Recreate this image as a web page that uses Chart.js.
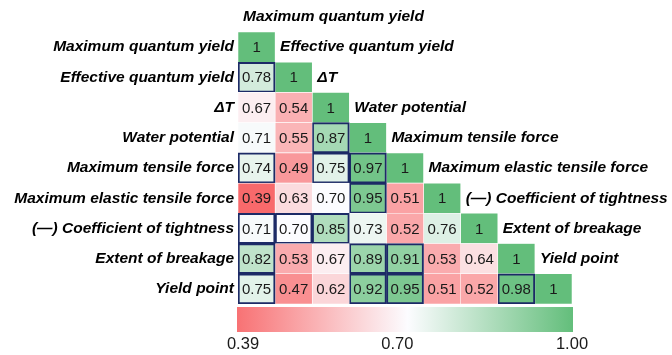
<!DOCTYPE html>
<html>
<head>
<meta charset="utf-8">
<script src="https://cdn.jsdelivr.net/npm/chart.js@4/dist/chart.umd.min.js"></script>
<style>
  html, body { margin: 0; padding: 0; background: #fff; }
  #wrap { width: 672px; height: 355px; position: relative; }
</style>
</head>
<body>
<div id="wrap"><canvas id="myChart" width="672" height="355"></canvas></div>
<script>
// traits, top to bottom (same order for columns, left to right)
var traits = [
  'Maximum quantum yield',
  'Effective quantum yield',
  '\u0394T',
  'Water potential',
  'Maximum tensile force',
  'Maximum elastic tensile force',
  '(\u2014) Coefficient of tightness',
  'Extent of breakage',
  'Yield point'
];

// lower triangle of the correlation matrix, one row per trait
var corr = [
  [1],
  [0.78, 1],
  [0.67, 0.54, 1],
  [0.71, 0.55, 0.87, 1],
  [0.74, 0.49, 0.75, 0.97, 1],
  [0.39, 0.63, 0.70, 0.95, 0.51, 1],
  [0.71, 0.70, 0.85, 0.73, 0.52, 0.76, 1],
  [0.82, 0.53, 0.67, 0.89, 0.91, 0.53, 0.64, 1],
  [0.75, 0.47, 0.62, 0.92, 0.95, 0.51, 0.52, 0.98, 1]
];

// cells outlined in the figure: [row, column]
var boxed = [
  [1, 0], [3, 2], [4, 0], [4, 2], [4, 3], [5, 3],
  [6, 0], [6, 1], [6, 2], [7, 0], [7, 3], [7, 4],
  [8, 0], [8, 3], [8, 4], [8, 7]
];

// colour scale
var scaleMin = 0.39, scaleMid = 0.70, scaleMax = 1.00;
var scaleTicks = ['0.39', '0.70', '1.00'];

var RED = [248, 105, 107], WHITE = [252, 252, 255], GREEN = [99, 190, 123];
var NAVY = '#1c2a66';
var LABEL_FONT = 'italic bold 15.5px "Liberation Sans", Arial, sans-serif';

function mix(a, b, t) {
  t = Math.max(0, Math.min(1, t));
  return 'rgb(' + [0, 1, 2].map(function (k) {
    return Math.round(a[k] + (b[k] - a[k]) * t);
  }).join(',') + ')';
}

function cellColor(v) {
  if (v <= scaleMid) return mix(RED, WHITE, (v - scaleMin) / (scaleMid - scaleMin));
  return mix(WHITE, GREEN, (v - scaleMid) / (scaleMax - scaleMid));
}

function isBoxed(r, c) {
  return boxed.some(function (b) { return b[0] === r && b[1] === c; });
}

// one floating-bar dataset per column
var datasets = traits.map(function (t, col) {
  return {
    label: t,
    grouped: false,
    data: traits.map(function (t2, row) { return row >= col ? [col, col + 1] : null; }),
    backgroundColor: function (ctx) {
      var v = corr[ctx.dataIndex][ctx.datasetIndex];
      return v === undefined ? 'transparent' : cellColor(v);
    },
    borderColor: function (ctx) {
      return isBoxed(ctx.dataIndex, ctx.datasetIndex) ? NAVY : '#ffffff';
    },
    borderWidth: function (ctx) {
      return isBoxed(ctx.dataIndex, ctx.datasetIndex) ? 2 : 0.6;
    },
    borderSkipped: false,
    barPercentage: 1,
    categoryPercentage: 1
  };
});

var heatLabels = {
  id: 'heatLabels',
  afterDatasetsDraw: function (chart) {
    var c = chart.ctx, xs = chart.scales.x, ys = chart.scales.y;
    var area = chart.chartArea;
    c.save();
    c.textBaseline = 'middle';

    // values in the cells
    c.font = '15px "Liberation Sans", Arial, sans-serif';
    c.fillStyle = '#1a1a1a';
    c.textAlign = 'center';
    corr.forEach(function (row, r) {
      row.forEach(function (v, col) {
        var x = (xs.getPixelForValue(col) + xs.getPixelForValue(col + 1)) / 2;
        var y = ys.getPixelForValue(r);
        c.fillText(v === 1 ? '1' : v.toFixed(2), x, y + 1);
      });
    });

    // trait names along the diagonal and on top
    c.font = LABEL_FONT;
    c.fillStyle = '#000';
    c.textAlign = 'left';
    c.fillText(traits[0], xs.getPixelForValue(0) + 5, area.top - 15);
    for (var r = 0; r < traits.length - 1; r++) {
      c.fillText(traits[r + 1], xs.getPixelForValue(r + 1) + 5, ys.getPixelForValue(r));
    }

    // colour bar
    var left = xs.getPixelForValue(0) - 1, right = xs.getPixelForValue(traits.length) + 1;
    var top = area.bottom + 3, h = 25;
    var g = c.createLinearGradient(left, 0, right, 0);
    g.addColorStop(0, mix(RED, WHITE, 0.06));
    g.addColorStop((scaleMid - scaleMin) / (scaleMax - scaleMin), mix(RED, WHITE, 1));
    g.addColorStop(1, mix(WHITE, GREEN, 1));
    c.fillStyle = g;
    c.fillRect(left, top, right - left, h);

    c.font = '16.5px "Liberation Sans", Arial, sans-serif';
    c.fillStyle = '#1a1a1a';
    c.textAlign = 'center';
    var w = right - left;
    var pos = [left + 6, left + w * 0.477, right - 1];
    scaleTicks.forEach(function (t, i) {
      c.fillText(t, pos[i], top + h + 12);
    });
    c.restore();
  }
};

var ctx = document.getElementById('myChart').getContext('2d');
var myChart = new Chart(ctx, {
  type: 'bar',
  data: { labels: traits, datasets: datasets },
  options: {
    indexAxis: 'y',
    responsive: false,
    animation: false,
    events: [],
    layout: { padding: { left: 0, right: 100, top: 32, bottom: 51 } },
    plugins: { legend: { display: false }, tooltip: { enabled: false } },
    scales: {
      x: { type: 'linear', min: 0, max: traits.length, display: false },
      y: {
        type: 'category',
        grid: { display: false, drawTicks: false },
        border: { display: false },
        ticks: {
          color: '#000',
          padding: 4,
          font: { family: '"Liberation Sans", Arial, sans-serif', size: 15.5, style: 'italic', weight: 'bold' }
        },
        afterFit: function (scale) { scale.width = 238; }
      }
    }
  },
  plugins: [heatLabels]
});
</script>
</body>
</html>
